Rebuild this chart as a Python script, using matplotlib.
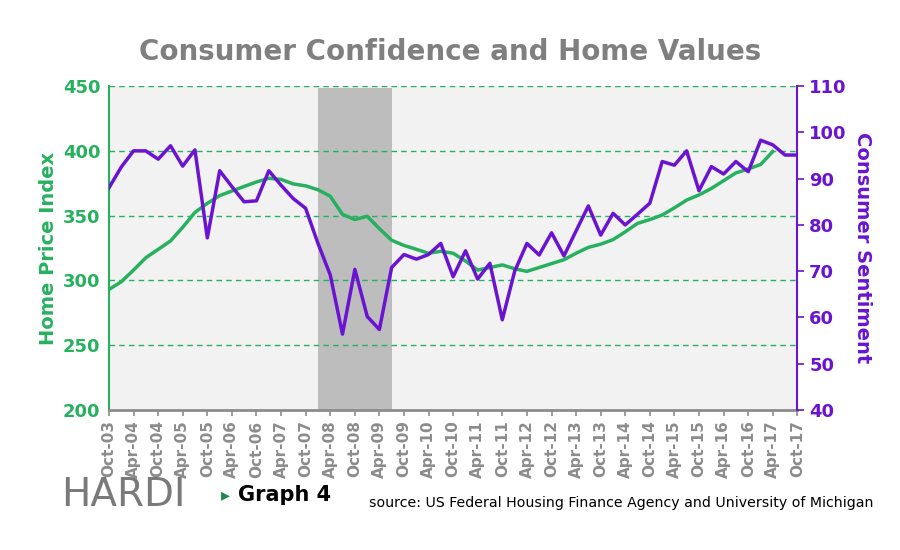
import numpy as np
import pandas as pd
import matplotlib.pyplot as plt
import matplotlib.dates as mdates

# Quarterly data, Oct-03 .. Oct-17
quarters = pd.date_range('2003-10-01', periods=57, freq='QS-OCT')

home_price = [293, 299, 308, 317.5, 324, 330.5, 341, 352.5, 359.5, 365.5,
              369, 372.5, 376, 378.8, 378, 374.5, 373, 370, 365, 351,
              347, 349.5, 340, 331, 327, 324, 321, 322.5, 321, 315,
              308, 310, 312, 309, 307, 310, 313, 316, 321, 325.5,
              328, 331.5, 337.5, 344, 347, 350.5, 356, 362, 366, 371,
              377, 383, 386, 389.5, 399.5]

sentiment = [88.0, 92.5, 96.0, 96.0, 94.2, 97.1, 92.7, 96.2, 77.2, 91.7,
             88.3, 85.0, 85.2, 91.7, 88.6, 85.7, 83.6, 76.0, 69.2, 56.4,
             70.4, 60.2, 57.4, 70.8, 73.6, 72.6, 73.6, 76.0, 68.8, 74.4,
             68.3, 71.7, 59.5, 70.0, 76.0, 73.5, 78.3, 73.3, 78.7, 84.1,
             77.8, 82.5, 80.0, 82.3, 84.7, 93.7, 92.9, 96.0, 87.4, 92.6,
             91.0, 93.7, 91.5, 98.3, 97.3, 95.1, 95.1]

recession = (pd.Timestamp('2008-01-01'), pd.Timestamp('2009-07-01'))

green = '#27b15f'
purple = '#6a14d2'
grey = '#8c8c8c'

fig = plt.figure(figsize=(9, 5.5), dpi=100)
ax = fig.add_axes([0.121, 0.2545, 0.765, 0.589])
ax.set_facecolor('#f2f2f2')

# recession band (stops a touch below the top line)
ax.fill_between(recession, 200, 448.5, color='#bdbdbd', zorder=1, lw=0)

for y in [250, 300, 350, 400, 450]:
    ax.axhline(y, color=green, ls=(0, (4, 3)), lw=1, zorder=2)

ax.plot(quarters[:len(home_price)], home_price, color=green, lw=2.5, zorder=3)
ax.set_ylim(200, 450)
ax.set_yticks([200, 250, 300, 350, 400, 450])
ax.set_xlim(quarters[0], quarters[-1])

ax2 = ax.twinx()
ax2.plot(quarters, sentiment, color=purple, lw=2.5, zorder=4)
ax2.set_ylim(40, 110)
ax2.set_yticks(range(40, 111, 10))

ticks = quarters[::2]
ax.set_xticks(ticks)
ax.set_xticklabels([d.strftime('%b-%y') for d in ticks], rotation=90,
                   color=grey, fontsize=11, fontweight='bold')
ax.tick_params(axis='x', colors=grey, length=4, width=1.2)

for lab in ax.get_yticklabels():
    lab.set_color(green)
    lab.set_fontsize(13)
    lab.set_fontweight('bold')
ax.tick_params(axis='y', colors=green, length=0, pad=6)
for lab in ax2.get_yticklabels():
    lab.set_color(purple)
    lab.set_fontsize(13)
    lab.set_fontweight('bold')
ax2.tick_params(axis='y', colors=purple, length=5, width=1.2)

ax.spines['top'].set_visible(False)
ax2.spines['top'].set_visible(False)
ax.spines['left'].set_color(green)
ax.spines['left'].set_linewidth(1.5)
ax2.spines['left'].set_visible(False)
ax2.spines['right'].set_color(purple)
ax2.spines['right'].set_linewidth(1.5)
ax.spines['bottom'].set_color(grey)
ax.spines['bottom'].set_linewidth(2)
ax2.spines['bottom'].set_visible(False)
ax.spines['right'].set_visible(False)

ax.set_ylabel('Home Price Index', color=green, fontsize=14, fontweight='bold', labelpad=4)
ax2.set_ylabel('Consumer Sentiment', color=purple, fontsize=14, fontweight='bold',
               rotation=-90, labelpad=18)

fig.text(0.5, 0.905, 'Consumer Confidence and Home Values', ha='center', va='center',
         fontsize=20, fontweight='bold', color='#7f7f7f')

# footer
fig.text(0.068, 0.1, 'HARDI', ha='left', va='center', fontsize=28,
         color='#7a7a7a')
fig.text(0.246, 0.1, '\u25b8', ha='left', va='center', fontsize=13, color='#1f8a4c')
fig.text(0.264, 0.1, 'Graph 4', ha='left', va='center', fontsize=15,
         fontweight='bold', color='black')
fig.text(0.41, 0.086, 'source: US Federal Housing Finance Agency and University of Michigan',
         ha='left', va='center', fontsize=10.2, color='black')

fig.savefig('out.png', dpi=100)
